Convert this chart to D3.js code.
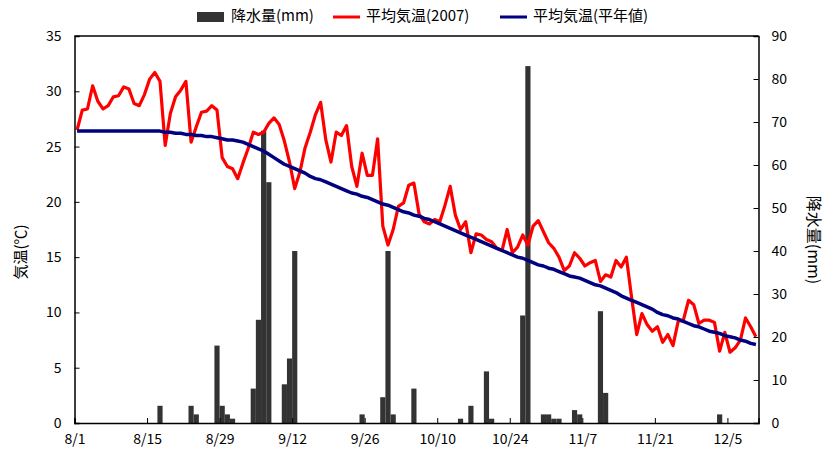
<!DOCTYPE html>
<html>
<head>
<meta charset="utf-8">
<script src="https://cdn.jsdelivr.net/npm/d3@7"></script>
<style>
  html, body { margin: 0; padding: 0; background: #fff; }
  svg { display: block; font-family: "Noto Sans CJK JP", sans-serif; }
</style>
</head>
<body>
<svg id="chart" width="827" height="461"></svg>
<script>
// daily data from 8/1 to 12/10 (132 days)
const dayCount = 132

const tickLabels = ['8/1', '8/15', '8/29', '9/12', '9/26', '10/10', '10/24', '11/7', '11/21', '12/5']

// 平均気温(2007)
const temp2007 = [
  26.5, 28.3, 28.4, 30.5, 29.1, 28.4, 28.7, 29.5, 29.6, 30.4,
  30.2, 28.9, 28.7, 29.7, 31.1, 31.7, 30.9, 25.1, 28.0, 29.5,
  30.1, 30.9, 25.4, 26.8, 28.1, 28.2, 28.7, 28.3, 24.0, 23.2,
  23.0, 22.1, 23.5, 24.8, 26.3, 26.1, 26.3, 27.1, 27.6, 27.0,
  25.5, 23.6, 21.2, 22.7, 24.9, 26.3, 27.9, 29.0, 25.6, 23.6,
  26.3, 26.0, 26.9, 23.2, 21.4, 24.4, 22.4, 22.4, 25.7, 17.8,
  16.1, 17.5, 19.6, 19.9, 21.5, 21.7, 18.9, 18.2, 18.0, 18.4,
  18.2, 19.7, 21.4, 18.8, 17.5, 18.2, 15.4, 17.1, 17.0, 16.6,
  16.4, 15.8, 15.6, 17.5, 15.4, 15.9, 17.0, 16.1, 17.8, 18.3,
  17.3, 16.3, 15.8, 15.0, 13.8, 14.2, 15.4, 14.9, 14.2, 14.5,
  14.7, 12.8, 13.4, 13.2, 14.7, 14.1, 15.0, 11.4, 8.0, 9.9,
  8.9, 8.3, 8.7, 7.3, 8.0, 7.0, 9.2, 9.3, 11.1, 10.7,
  9.0, 9.3, 9.3, 9.1, 6.5, 8.2, 6.4, 6.8, 7.5, 9.5,
  8.7, 7.8
]

// 平均気温(平年値)
const tempNormal = [
  26.4, 26.4, 26.4, 26.4, 26.4, 26.4, 26.4, 26.4, 26.4, 26.4,
  26.4, 26.4, 26.4, 26.4, 26.4, 26.4, 26.4, 26.3, 26.3, 26.2,
  26.2, 26.1, 26.1, 26.0, 26.0, 25.9, 25.9, 25.8, 25.7, 25.6,
  25.6, 25.5, 25.4, 25.2, 25.0, 24.8, 24.6, 24.3, 24.0, 23.7,
  23.4, 23.2, 23.0, 22.8, 22.6, 22.3, 22.1, 22.0, 21.8, 21.6,
  21.4, 21.2, 21.0, 20.8, 20.7, 20.5, 20.4, 20.2, 20.0, 19.8,
  19.7, 19.5, 19.3, 19.1, 19.0, 18.8, 18.7, 18.5, 18.4, 18.2,
  18.0, 17.8, 17.6, 17.4, 17.2, 17.0, 16.8, 16.6, 16.4, 16.2,
  16.0, 15.8, 15.6, 15.4, 15.2, 15.0, 14.9, 14.7, 14.5, 14.3,
  14.2, 14.0, 13.9, 13.7, 13.5, 13.3, 13.2, 13.1, 12.9, 12.7,
  12.5, 12.4, 12.2, 12.0, 11.8, 11.5, 11.3, 11.1, 10.9, 10.7,
  10.5, 10.3, 10.0, 9.8, 9.7, 9.5, 9.4, 9.2, 9.0, 8.8,
  8.7, 8.5, 8.3, 8.2, 8.1, 7.9, 7.8, 7.7, 7.5, 7.4,
  7.2, 7.1
]

// 降水量(mm)
const precip = [
  0, 0, 0, 0, 0, 0, 0, 0, 0, 0,
  0, 0, 0, 0, 0, 0, 4, 0, 0, 0,
  0, 0, 4, 2, 0, 0, 0, 18, 4, 2,
  1, 0, 0, 0, 8, 24, 68, 56, 0, 0,
  9, 15, 40, 0, 0, 0, 0, 0, 0, 0,
  0, 0, 0, 0, 0, 2, 0, 0, 0, 6,
  40, 2, 0, 0, 0, 8, 0, 0, 0, 0,
  0, 0, 0, 0, 1, 0, 4, 0, 0, 12,
  1, 0, 0, 0, 0, 0, 25, 83, 0, 0,
  2, 2, 1, 1, 0, 0, 3, 2, 0, 0,
  0, 26, 7, 0, 0, 0, 0, 0, 0, 0,
  0, 0, 0, 0, 0, 0, 0, 0, 0, 0,
  0, 0, 0, 0, 2, 0, 0, 0, 0, 0,
  0, 0
]

const tempTicks = [0, 5, 10, 15, 20, 25, 30, 35]
const precipTicks = [0, 10, 20, 30, 40, 50, 60, 70, 80, 90]

let settings = {
  margin: { top: 36, left: 74.5, bottom: 38, right: 68.5 },
  width: 827,
  height: 461,
  barColor: '#333333',
  redColor: '#FF0000',
  blueColor: '#000080'
}

const innerwidth = settings.width - settings.margin.left - settings.margin.right,
  innerheight = settings.height - settings.margin.top - settings.margin.bottom

let svg = d3.select('#chart')
let canvas = svg.append('g')
  .attr('transform', `translate(${settings.margin.left},${settings.margin.top})`)

// day index scale
let xScale = d3.scaleLinear().domain([0, dayCount]).range([0, innerwidth])
let yScale = d3.scaleLinear().domain([0, 35]).range([innerheight, 0])
let y2Scale = d3.scaleLinear().domain([0, 90]).range([innerheight, 0])

let tickIdx = tickLabels.map((t, i) => i * 14)

// bars
canvas.selectAll('.dataRect')
  .data(precip.map((v, i) => ({ i, v })).filter(d => d.v > 0))
  .enter()
  .append('rect')
  .attr('class', 'dataRect')
  .attr('x', d => xScale(d.i))
  .attr('width', xScale(1) - xScale(0))
  .attr('y', d => y2Scale(d.v))
  .attr('height', d => innerheight - y2Scale(d.v))
  .attr('fill', settings.barColor)

// lines
let line = d3.line().x((d, i) => xScale(i + 0.5)).y(d => yScale(d))
canvas.append('path')
  .datum(temp2007)
  .attr('d', line)
  .attr('fill', 'none')
  .attr('stroke', settings.redColor)
  .attr('stroke-width', 3.2)
  .attr('stroke-linejoin', 'round')
canvas.append('path')
  .datum(tempNormal)
  .attr('d', line)
  .attr('fill', 'none')
  .attr('stroke', settings.blueColor)
  .attr('stroke-width', 3.5)
  .attr('stroke-linejoin', 'round')

// axes
let xAxis = d3.axisBottom(xScale).tickValues(tickIdx).tickSize(-5).tickPadding(11)
  .tickFormat((d, i) => tickLabels[i])
let yAxis = d3.axisLeft(yScale).tickValues(tempTicks).tickSize(-5).tickPadding(13)
let y2Axis = d3.axisRight(y2Scale).tickValues(precipTicks).tickSize(-5).tickPadding(13)

canvas.append('g').attr('transform', `translate(0,${innerheight})`).call(xAxis)
canvas.append('g').call(yAxis)
canvas.append('g').attr('transform', `translate(${innerwidth},0)`).call(y2Axis)

// top border
canvas.append('line')
  .attr('x1', 0).attr('x2', innerwidth)
  .attr('y1', 0).attr('y2', 0)
  .attr('stroke', '#000').attr('stroke-width', 1.5)

canvas.selectAll('.domain').attr('stroke', '#000').attr('stroke-width', 1.5)
canvas.selectAll('.tick line').attr('stroke', '#000').attr('stroke-width', 1)
canvas.selectAll('.tick text')
  .attr('font-size', '14px')
  .attr('font-family', '"Noto Sans CJK JP", sans-serif')
  .attr('fill', '#000')

// axis titles
svg.append('text')
  .attr('transform', 'translate(22,252) rotate(-90)')
  .attr('text-anchor', 'middle')
  .attr('dominant-baseline', 'middle')
  .attr('font-size', '15px')
  .text('気温(℃)')

svg.append('text')
  .attr('transform', 'translate(812,240) rotate(90)')
  .attr('text-anchor', 'middle')
  .attr('dominant-baseline', 'middle')
  .attr('font-size', '16px')
  .text('降水量(mm)')

// legend
let legend = svg.append('g').attr('font-size', '15px')
legend.append('rect')
  .attr('x', 197).attr('y', 12).attr('width', 27).attr('height', 10)
  .attr('fill', settings.barColor)
legend.append('text').attr('x', 231).attr('y', 17).attr('dominant-baseline', 'middle').text('降水量(mm)')
legend.append('line')
  .attr('x1', 333).attr('x2', 360).attr('y1', 17).attr('y2', 17)
  .attr('stroke', settings.redColor).attr('stroke-width', 3)
legend.append('text').attr('x', 366).attr('y', 17).attr('dominant-baseline', 'middle').text('平均気温(2007)')
legend.append('line')
  .attr('x1', 500).attr('x2', 527).attr('y1', 17).attr('y2', 17)
  .attr('stroke', settings.blueColor).attr('stroke-width', 3)
legend.append('text').attr('x', 533).attr('y', 17).attr('dominant-baseline', 'middle').text('平均気温(平年値)')
</script>
</body>
</html>
